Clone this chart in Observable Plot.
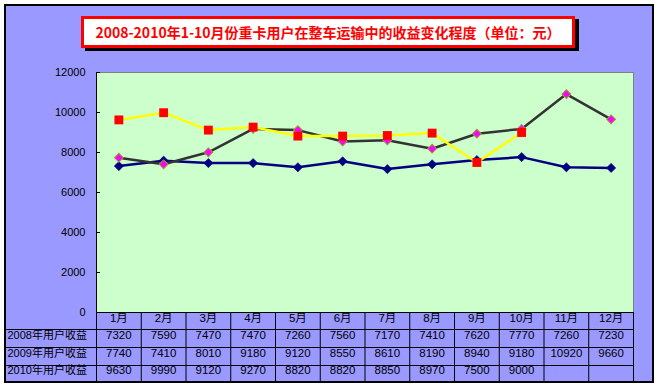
<!DOCTYPE html>
<html>
<head>
<meta charset="utf-8">
<script src="https://cdn.jsdelivr.net/npm/d3@7"></script>
<script src="https://cdn.jsdelivr.net/npm/@observablehq/plot@0.6"></script>
<style>
  html, body { margin: 0; padding: 0; background: #ffffff; }
  #wrap { position: relative; width: 657px; height: 387px; overflow: hidden; }
  #frame { position: absolute; left: 4px; top: 4px; width: 650px; height: 379px; box-sizing: border-box;
           background: #9999FF; border: 2px solid #000; }
  #title { position: absolute; left: 81px; top: 16px; width: 494px; height: 32px; box-sizing: border-box;
           background: #fff; border: 3px solid #FF0000; box-shadow: 4px 3px 0 #000;
           color: #FF0000; font: bold 14px "Noto Sans CJK SC", "DejaVu Sans", sans-serif;
           display: flex; align-items: center; justify-content: center; white-space: nowrap; z-index: 2; }
  #chart { position: absolute; left: 0; top: 0; }
</style>
</head>
<body>
<div id="wrap">
  <div id="frame"></div>
  <div id="title"></div>
  <div id="chart"></div>
</div>
<script>
const titleText = "2008-2010年1-10月份重卡用户在整车运输中的收益变化程度（单位：元）";
const months = ["1月","2月","3月","4月","5月","6月","7月","8月","9月","10月","11月","12月"];
const yTicks = [0, 2000, 4000, 6000, 8000, 10000, 12000];
const seriesNames = ["2008年用户收益", "2009年用户收益", "2010年用户收益"];
const income2008 = [7320, 7590, 7470, 7470, 7260, 7560, 7170, 7410, 7620, 7770, 7260, 7230];
const income2009 = [7740, 7410, 8010, 9180, 9120, 8550, 8610, 8190, 8940, 9180, 10920, 9660];
const income2010 = [9630, 9990, 9120, 9270, 8820, 8820, 8850, 8970, 7500, 9000];

document.getElementById("title").textContent = titleText;

const seriesData = [income2008, income2009, income2010];
const colBounds = d3.range(0, months.length + 1).map(i => i + 0.5);
const rowH = 18;          // table row height in px
const headerH = 17;       // header row height in px
const labelW = 91;        // width of the row-label column in px
const font = '"Liberation Sans", "Noto Sans CJK SC", Arial, sans-serif';

const mx = (d, i) => i + 1;

const marks = [
  Plot.frame({fill: "#CCFFCC", stroke: null}),
  // plot border: gray top & right, black left axis
  Plot.ruleY([12000], {x1: 0.5, x2: 12.5, stroke: "#808080"}),
  Plot.ruleX([12.5], {y1: 0, y2: 12000, stroke: "#808080"}),
  Plot.ruleX([0.5], {y1: 0, y2: 12000, stroke: "#000"}),
  // inward tick marks
  Plot.ruleY(yTicks, {x1: 0.5, x2: 0.5, insetRight: -4, stroke: "#000"}),
  Plot.axisY(yTicks, {tickSize: 0, tickPadding: 11, tickFormat: d => String(d), fontSize: 11, fill: "#000", label: null}),

  // 2008
  Plot.line(income2008, {x: mx, y: d => d, stroke: "#000080", strokeWidth: 2.5}),
  Plot.dot(income2008, {x: mx, y: d => d, symbol: "square", rotate: 45, r: 3.7, fill: "#000080", stroke: "#000080", strokeWidth: 0.5}),
  // 2009
  Plot.line(income2009, {x: mx, y: d => d, stroke: "#333333", strokeWidth: 2.5}),
  Plot.dot(income2009, {x: mx, y: d => d, symbol: "square", rotate: 45, r: 3.5, fill: "#FF00FF", stroke: "#999933", strokeWidth: 1}),
  // 2010
  Plot.line(income2010, {x: mx, y: d => d, stroke: "#FFFF00", strokeWidth: 2.5}),
  Plot.dot(income2010, {x: mx, y: d => d, symbol: "square", r: 5, fill: "#FF0000", stroke: null}),

  // data table grid
  Plot.ruleY([0], {x1: 0.5, x2: 12.5, stroke: "#000"}),
  ...[0, 1, 2, 3].map(k => Plot.ruleY([0], {x1: 0.5, x2: 12.5, insetLeft: -labelW, dy: headerH + k * rowH - (k === 3 ? 2 : 0), stroke: "#000"})),
  Plot.ruleX(colBounds, {x: d => d, y1: 0, y2: 0, insetBottom: -(headerH + 3 * rowH - 2), stroke: "#000"}),
  Plot.ruleX([0.5], {y1: 0, y2: 0, insetTop: headerH, insetBottom: -(headerH + 3 * rowH - 2), dx: -labelW, stroke: "#000"}),

  // header row (months)
  Plot.text(months, {x: mx, text: d => d, frameAnchor: "bottom", dy: headerH / 2 + 0.5, fontSize: 11.5, fill: "#000"}),
  // row labels and cells
  ...seriesNames.map((name, k) => Plot.text([name], {x: 0.5, text: d => d, frameAnchor: "bottom", dx: -labelW + 2, textAnchor: "start",
      dy: headerH + k * rowH + rowH / 2 - (k === 2 ? 1 : 0), fontSize: 11, fill: "#000"})),
  ...seriesData.map((vals, k) => Plot.text(vals, {x: mx, text: d => String(d), frameAnchor: "bottom",
      dy: headerH + k * rowH + rowH / 2 - (k === 2 ? 1 : 0), fontSize: 11.5, fill: "#000"}))
];

const chart = Plot.plot({
  width: 657,
  height: 387,
  marginLeft: 96,
  marginRight: 24,
  marginTop: 72,
  marginBottom: 75,
  style: {background: "transparent", fontFamily: font, fontSize: "11px", color: "#000", overflow: "visible"},
  x: {domain: [0.5, 12.5], axis: null},
  y: {domain: [0, 12000], axis: null},
  marks
});
document.getElementById("chart").appendChild(chart);
</script>
</body>
</html>
